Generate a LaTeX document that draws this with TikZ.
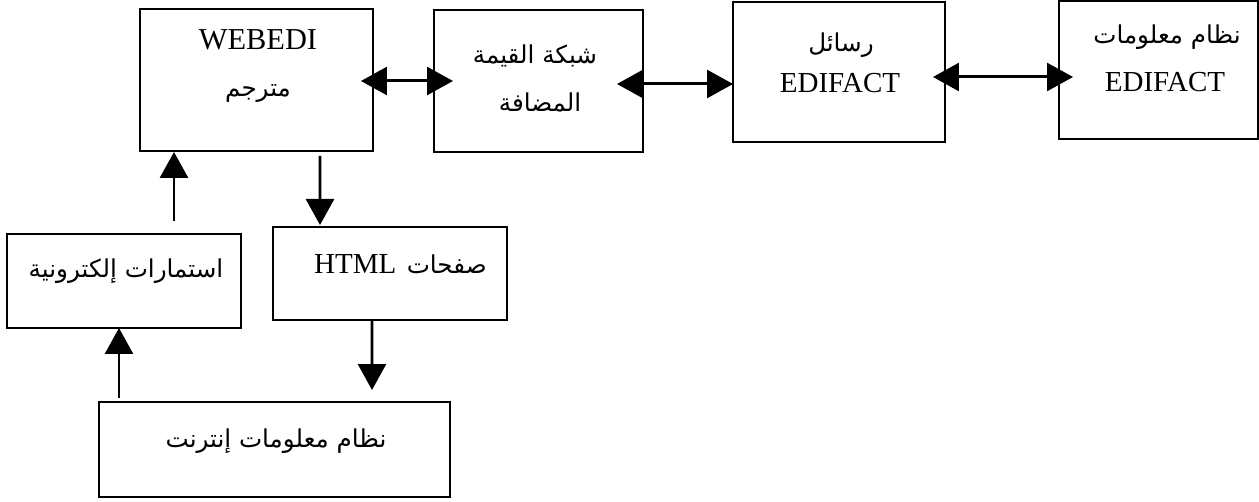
\documentclass[tikz,border=0pt]{standalone}
\usepackage{fontspec}
\setmainfont{Liberation Serif}
\newfontfamily\arabicfont[Script=Arabic]{DejaVu Sans}
\TeXXeTstate=1
\usetikzlibrary{arrows.meta,calc}
\begin{document}
\begin{tikzpicture}[x=0.02cm,y=-0.02cm,
  box/.style={draw, line width=1.1pt, inner sep=0pt, outer sep=0pt},
  lat/.style={font=\fontsize{16.5}{18}\selectfont, anchor=base, inner sep=0pt},
  ar/.style={font=\arabicfont\fontsize{14}{16}\selectfont, anchor=base, inner sep=0pt},
  tip/.tip={Triangle[length=14.8pt,width=15.9pt]},
  conn/.style={line width=1.7pt, -tip},
  dconn/.style={line width=1.7pt, tip-tip},
]
\useasboundingbox (0,0) rectangle (1259,502);

% boxes
\node[box, minimum width=4.66cm, minimum height=2.84cm] (web) at (256.5,80) {};
\node[box, minimum width=4.18cm, minimum height=2.84cm] (van) at (538.5,81) {};
\node[box, minimum width=4.24cm, minimum height=2.80cm] (msg) at (839,72) {};
\node[box, minimum width=3.98cm, minimum height=2.76cm] (edi) at (1158.5,70) {};
\node[box, minimum width=4.68cm, minimum height=1.86cm] (html) at (390,273.5) {};
\node[box, minimum width=4.68cm, minimum height=1.88cm] (forms) at (124,281) {};
\node[box, minimum width=7.02cm, minimum height=1.90cm] (inet) at (274.5,449.5) {};

% texts
\node[lat, font=\fontsize{17.3}{19}\selectfont] (webA) at (258,50) {WEBEDI};
\node[ar] (webB) at (258,97) {\beginR مترجم\endR};
\node[ar] (vanA) at (535,64) {\beginR شبكة القيمة\endR};
\node[ar] (vanB) at (540,112) {\beginR المضافة\endR};
\node[ar] (msgA) at (841,52) {\beginR رسائل\endR};
\node[lat] (msgB) at (840,93) {EDIFACT};
\node[ar] (ediA) at (1167,44) {\beginR نظام معلومات\endR};
\node[lat] (ediB) at (1165,92) {EDIFACT};
\node[ar, anchor=base east] (htmlA) at (487,274) {\beginR صفحات\hspace{6pt}{\rmfamily\fontsize{16.5}{18}\selectfont\beginL HTML\endL}\endR};
\node[ar] (formsA) at (126,278) {\beginR استمارات إلكترونية\endR};
\node[ar] (inetA) at (276,448) {\beginR نظام معلومات إنترنت\endR};

% connectors
\draw[dconn] ($(web.east)+(-12,1)$) -- ($(van.west)+(19,0)$);
\draw[dconn] ($(van.east)+(-26,3)$) -- ($(msg.west)+(0,12)$);
\draw[dconn] ($(msg.east)+(-12,5)$) -- ($(edi.west)+(14,7)$);
\draw[conn] ($(web.south)+(63.5,5)$) -- ($(html.north)+(-70,-2)$);
\draw[conn] ($(forms.north)+(50,-13)$) -- ($(web.south)+(-82.5,1)$);
\draw[conn] ($(html.south)+(-18,0)$) -- ($(inet.north)+(97.5,-12)$);
\draw[conn] ($(inet.north)+(-155.5,-4)$) -- ($(forms.south)+(-5,0)$);
\end{tikzpicture}
\end{document}
